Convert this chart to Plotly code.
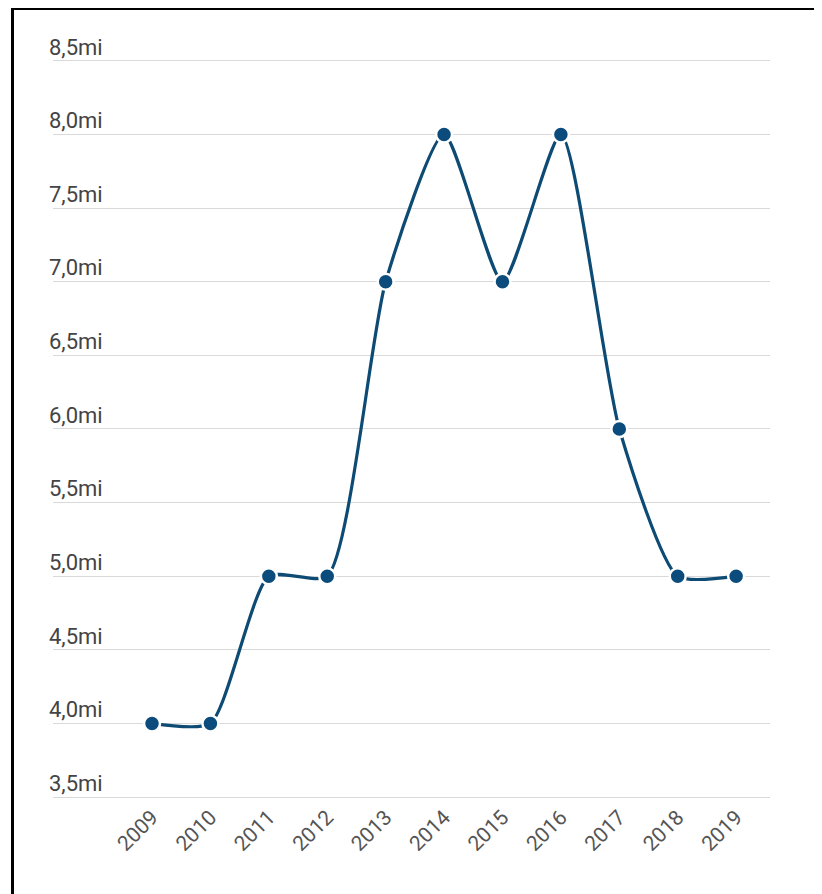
import plotly.graph_objects as go

years = ["2009", "2010", "2011", "2012", "2013", "2014", "2015", "2016", "2017", "2018", "2019"]
values = [4.0, 4.0, 5.0, 5.0, 7.0, 8.0, 7.0, 8.0, 6.0, 5.0, 5.0]
y_ticks = [3.5, 4.0, 4.5, 5.0, 5.5, 6.0, 6.5, 7.0, 7.5, 8.0, 8.5]

# page has an 8px body margin
W, H = 814, 886
L, R, T, B = 45, 52, 16, 94

fig = go.Figure()
fig.add_trace(go.Scatter(
    x=list(range(len(years))), y=values,
    mode="lines+markers",
    line=dict(color="#0d4b74", width=3.2, shape="spline", smoothing=0.6),
    marker=dict(color="#0b4c7c", size=16, line=dict(color="white", width=2.5)),
    hoverinfo="skip",
))

fig.update_layout(
    width=W, height=H,
    margin=dict(l=L, r=R, t=T, b=B),
    paper_bgcolor="white", plot_bgcolor="white",
    showlegend=False,
    font=dict(family="Roboto", size=22, color="#444444"),
    xaxis=dict(
        tickmode="array", tickvals=list(range(len(years))), ticktext=years,
        range=[-1.695, 10.58], showgrid=False, zeroline=False, showline=False,
        tickangle=-45, ticks="", tickfont=dict(size=21, color="#555555"),
    ),
    yaxis=dict(
        tickmode="array", tickvals=y_ticks,
        ticktext=[f"{v:.1f}".replace(".", ",") + "mi" for v in y_ticks],
        range=[3.48, 8.75], showgrid=True, gridcolor="#d9d9d9", gridwidth=1,
        zeroline=False, showline=False, ticks="",
        ticklabelposition="inside", ticklabelshift=-14, ticklabelstandoff=-7,
        tickfont=dict(size=22, color="#444444"),
    ),
)

# outer black frame (left and top edges visible in the reference)
pw, ph = W - L - R, H - T - B
def px(x):
    return (x - L) / pw
def py(y):
    return 1 - (y - T) / ph
fig.add_shape(type="rect", xref="paper", yref="paper",
              x0=px(4.5), x1=px(830), y0=py(900), y1=py(0.5),
              line=dict(color="black", width=3), fillcolor="rgba(0,0,0,0)", layer="above")

fig.write_html("out.html")
